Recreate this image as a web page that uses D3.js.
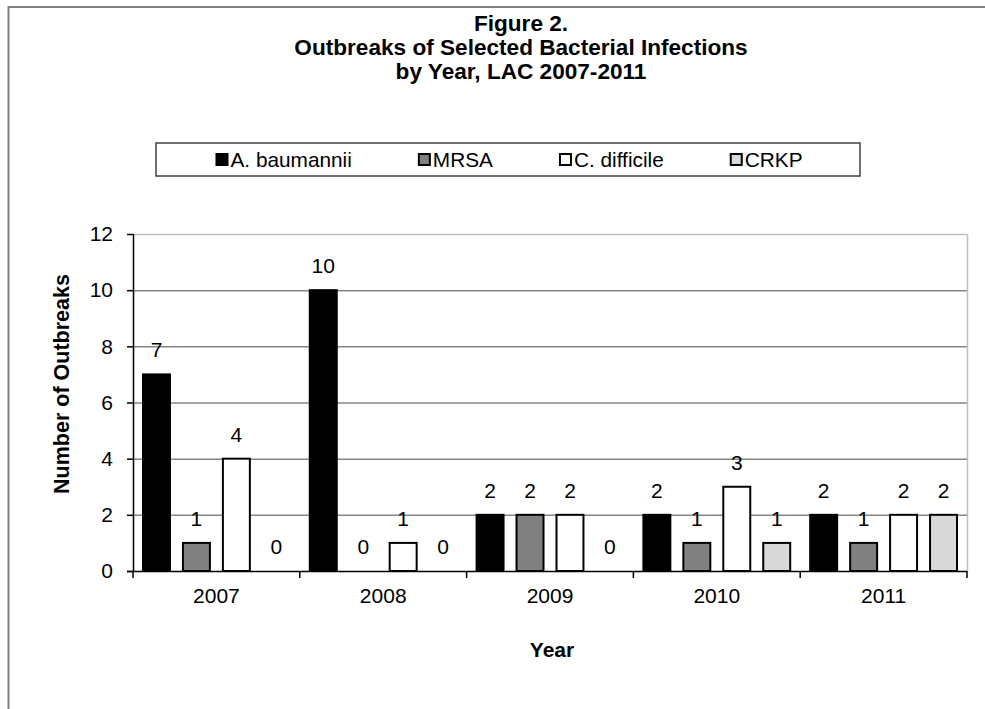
<!DOCTYPE html>
<html><head><meta charset="utf-8">
<script src="https://cdn.jsdelivr.net/npm/d3@7"></script>
<style>body{margin:0;background:#fff}svg{display:block;font-family:"Liberation Sans",Arial,sans-serif}</style>
</head><body>
<svg id="c" width="985" height="709"></svg>
<script>
const years = ["2007","2008","2009","2010","2011"];
const seriesNames = ["A. baumannii","MRSA","C. difficile","CRKP"];
const seriesColors = ["#000000","#808080","#ffffff","#d9d9d9"];
const aBaumannii = [7,10,2,2,2];
const mrsa = [1,0,2,1,1];
const cDifficile = [4,1,2,3,2];
const crkp = [0,0,0,1,2];
const yTicks = [0,2,4,6,8,10,12];
const titleLines = ["Figure 2.","Outbreaks of Selected Bacterial Infections","by Year, LAC 2007-2011"];

const values = [aBaumannii, mrsa, cDifficile, crkp];
const FONT = "'Liberation Sans', Arial, sans-serif";
const svg = d3.select("#c");

// outer frame
svg.append("rect").attr("x",8.5).attr("y",7).attr("width",1100).attr("height",800)
  .attr("fill","none").attr("stroke","#808080").attr("stroke-width",2);

const L=133, R=967, T=234, B=571;
const x0 = d3.scaleBand().domain(years).range([L,R]);
const x1 = d3.scaleBand().domain(seriesNames).range([0,x0.bandwidth()]).paddingInner(0.275).paddingOuter(0.225);
const y = d3.scaleLinear().domain([0,12]).range([B,T]);

// gridlines
svg.append("g").selectAll("line").data(yTicks.filter(d=>d>0)).join("line")
  .attr("x1",L).attr("x2",R).attr("y1",d=>y(d)+0.5).attr("y2",d=>y(d)+0.5)
  .attr("stroke",d=>d===12?"#c0c0c0":"#868686").attr("stroke-width",1.5);
// right border of plot
svg.append("line").attr("x1",R+0.5).attr("x2",R+0.5).attr("y1",T).attr("y2",B)
  .attr("stroke","#c0c0c0").attr("stroke-width",1.5);

// title
svg.append("g").selectAll("text").data(titleLines).join("text")
  .attr("x",521).attr("y",(d,i)=>31+i*24).attr("text-anchor","middle")
  .attr("font-weight","bold").attr("font-size",22.6).attr("fill","#000").text(d=>d);

// legend
const lg = svg.append("g");
lg.append("rect").attr("x",156).attr("y",143).attr("width",704).attr("height",33)
  .attr("fill","#fff").attr("stroke","#404040").attr("stroke-width",1.5);
const items = lg.selectAll("g.it").data(seriesNames).join("g").attr("class","it");
items.append("rect").attr("width",11).attr("height",11).attr("y",154)
  .attr("fill",(d,i)=>seriesColors[i]).attr("stroke","#000").attr("stroke-width",2);
items.append("text").attr("y",167).attr("font-size",20.8).text(d=>d);
const widths = [];
items.each(function(){ widths.push(15 + d3.select(this).select("text").node().getComputedTextLength()); });
const gap = 66;
const total = d3.sum(widths) + gap*(widths.length-1);
let cx = 509 - total/2;
items.each(function(d,i){
  const g = d3.select(this);
  g.select("rect").attr("x",cx+1);
  g.select("text").attr("x",cx+15);
  cx += widths[i] + gap;
});

// bars
const flat = [];
years.forEach((yr,i)=>seriesNames.forEach((s,j)=>flat.push({yr,s,j,v:values[j][i]})));
const bars = svg.append("g");
bars.selectAll("rect").data(flat.filter(d=>d.v>0)).join("rect")
  .attr("x",d=>x0(d.yr)+x1(d.s)+1).attr("width",x1.bandwidth()-2)
  .attr("y",d=>y(d.v)).attr("height",d=>y(0)-y(d.v))
  .attr("fill",d=>seriesColors[d.j]).attr("stroke","#000").attr("stroke-width",2);
bars.selectAll("text").data(flat).join("text")
  .attr("x",d=>x0(d.yr)+x1(d.s)+x1.bandwidth()/2).attr("y",d=>y(d.v)-17)
  .attr("text-anchor","middle").attr("font-size",21).text(d=>d.v);

// axes
const ya = svg.append("g").attr("transform",`translate(${L},0)`)
  .call(d3.axisLeft(y).tickValues(yTicks).tickSize(6).tickPadding(14));
const xa = svg.append("g").attr("transform",`translate(0,${B})`)
  .call(d3.axisBottom(x0).tickSize(0).tickPadding(17));
[ya,xa].forEach(a=>{a.select(".domain").attr("stroke","#000").attr("stroke-width",1.5);
  a.selectAll("text").attr("font-size",21).attr("font-family",FONT).attr("fill","#000");
  a.selectAll("line").attr("stroke","#000").attr("stroke-width",1.5);});
ya.select(".domain").attr("d",`M0.5,${T}V${B}`);
xa.select(".domain").attr("d",`M${L-6},0.5H${R}`);
// category boundary ticks
svg.append("g").selectAll("line").data(years.concat(["end"])).join("line")
  .attr("x1",(d,i)=>L+i*x0.step()).attr("x2",(d,i)=>L+i*x0.step())
  .attr("y1",B).attr("y2",B+7).attr("stroke","#000").attr("stroke-width",1.5);

// axis titles
svg.append("text").attr("x",552).attr("y",657).attr("text-anchor","middle")
  .attr("font-weight","bold").attr("font-size",21).text("Year");
svg.append("text").attr("transform","translate(69,384) rotate(-90)").attr("text-anchor","middle")
  .attr("font-weight","bold").attr("font-size",21.5).text("Number of Outbreaks");
</script>
</body></html>
